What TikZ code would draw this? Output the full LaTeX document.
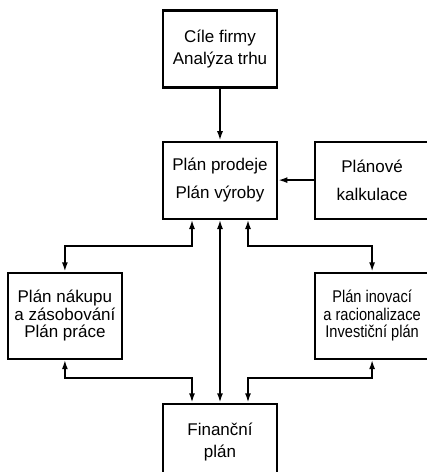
\documentclass[tikz,border=0pt]{standalone}
\usepackage{fontspec}
\setmainfont{Liberation Sans}
\newfontfamily\narrowfont[FakeStretch=0.86]{Liberation Sans}
\usetikzlibrary{arrows.meta, positioning}

\begin{document}
\begin{tikzpicture}[
    box/.style={rectangle, draw, line width=1.8pt, minimum width=3.42cm,
                minimum height=2.31cm, inner sep=1pt, align=center,
                font=\fontsize{14.5}{15}\selectfont},
    tall/.style={minimum height=2.58cm},
    arrow/.style={-{Latex[length=2.8mm,width=1.8mm]}, line width=1.5pt},
    both/.style={{Latex[length=2.8mm,width=1.8mm]}-{Latex[length=2.8mm,width=1.8mm]}, line width=1.5pt}
]
\useasboundingbox (0,0) rectangle (12.81,-14.16);
\node[box] (cile) at (6.6,-1.47) {Cíle firmy\\[4pt]Analýza trhu};
\node[box, below=1.56cm of cile] (prodej) {Plán prodeje\\[9pt]Plán výroby};
\node[box, right=1.08cm of prodej] (kalk) {Plánové\\[9pt]kalkulace};
\node[box, tall, below left=1.56cm and 1.17cm of prodej] (nakup) {Plán nákupu\\a zásobování\\Plán práce};
\node[box, tall, below right=1.56cm and 1.08cm of prodej,
      font=\narrowfont\fontsize{14.5}{15}\selectfont] (inov) {Plán inovací\\a racionalizace\\Investiční plán};
\node[box, below=5.49cm of prodej] (fin) {Finanční\\[4pt]plán};

\draw[arrow] (cile) -- (prodej);
\draw[arrow] (kalk) -- (prodej);
\draw[both] (prodej) -- (fin);
\draw[both] ([xshift=-0.84cm]prodej.south) -- ++(0,-0.78cm) -| (nakup.north);
\draw[both] ([xshift=0.84cm]prodej.south) -- ++(0,-0.78cm) -| (inov.north);
\draw[both] (nakup.south) -- ++(0,-0.54cm) -| ([xshift=-0.84cm]fin.north);
\draw[both] (inov.south) -- ++(0,-0.54cm) -| ([xshift=0.84cm]fin.north);
\end{tikzpicture}
\end{document}
